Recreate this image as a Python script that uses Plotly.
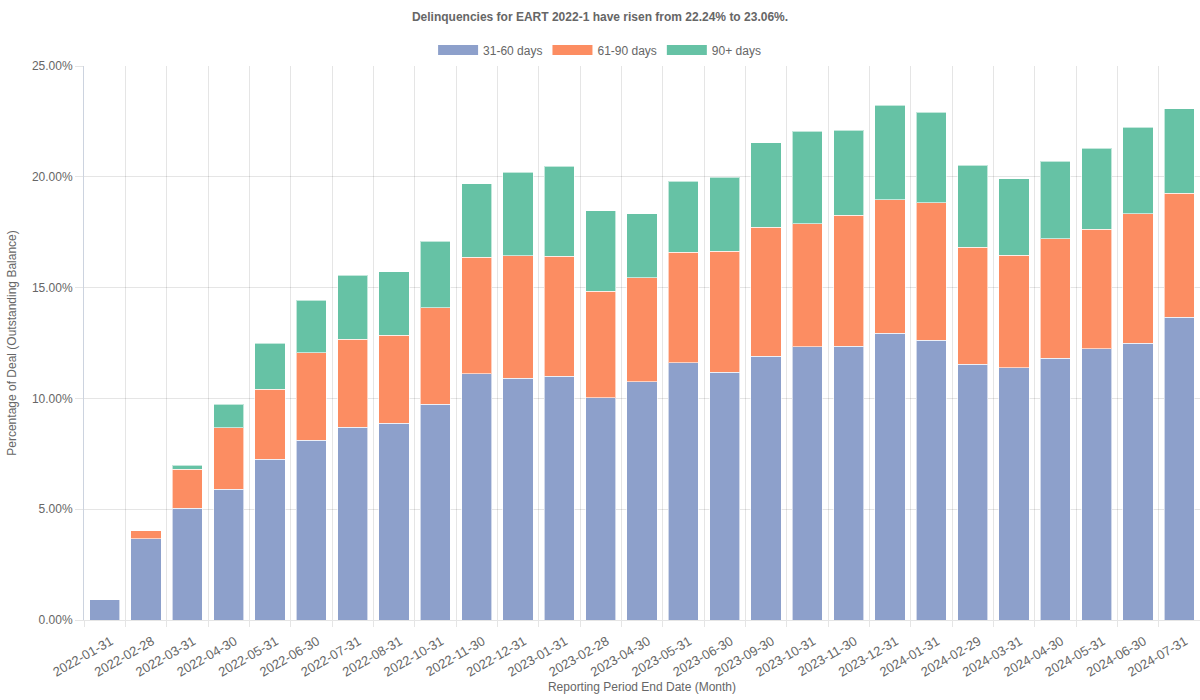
import plotly.graph_objects as go

dates = ["2022-01-31", "2022-02-28", "2022-03-31", "2022-04-30", "2022-05-31", "2022-06-30",
         "2022-07-31", "2022-08-31", "2022-10-31", "2022-11-30", "2022-12-31", "2023-01-31",
         "2023-02-28", "2023-04-30", "2023-05-31", "2023-06-30", "2023-09-30", "2023-10-31",
         "2023-11-30", "2023-12-31", "2024-01-31", "2024-02-29", "2024-03-31", "2024-04-30",
         "2024-05-31", "2024-06-30", "2024-07-31"]

d31_60 = [0.92, 3.67, 5.04, 5.91, 7.25, 8.11, 8.69, 8.89, 9.73, 11.11, 10.91, 11.01, 10.02, 10.76,
          11.61, 11.19, 11.90, 12.33, 12.36, 12.94, 12.62, 11.54, 11.39, 11.81, 12.24, 12.49, 13.67]
d61_90 = [None, 0.36, 1.76, 2.77, 3.16, 3.95, 3.98, 3.97, 4.36, 5.26, 5.52, 5.40, 4.81, 4.69,
          4.98, 5.46, 5.82, 5.55, 5.90, 6.03, 6.20, 5.28, 5.07, 5.40, 5.40, 5.85, 5.59]
d90p = [None, None, 0.18, 1.05, 2.08, 2.38, 2.88, 2.86, 3.01, 3.31, 3.77, 4.06, 3.63, 2.89,
        3.22, 3.34, 3.82, 4.17, 3.84, 4.27, 4.09, 3.71, 3.46, 3.50, 3.65, 3.90, 3.80]

series_names = ["31-60 days", "61-90 days", "90+ days"]
colors = ["#8da0cb", "#fc8d62", "#66c2a5"]
y_ticks = [0, 5, 10, 15, 20, 25]
y_tick_labels = ["0.00%", "5.00%", "10.00%", "15.00%", "20.00%", "25.00%"]

font_family = "Liberation Sans, Arial, Helvetica, sans-serif"
grid = "rgba(0,0,0,0.1)"

fig = go.Figure()
for name, vals, col in zip(series_names, [d31_60, d61_90, d90p], colors):
    fig.add_trace(go.Bar(
        x=dates, y=vals, name=name, showlegend=False,
        marker=dict(color=col, line=dict(color="rgba(255,255,255,0.6)", width=1)),
    ))
# legend proxies (wide colour boxes like the original)
for name, col in zip(series_names, colors):
    fig.add_trace(go.Scatter(
        x=[None], y=[None], mode="lines", name=name,
        line=dict(color=col, width=12),
    ))

fig.update_layout(
    width=1200, height=700,
    barmode="stack", bargap=0.27,
    paper_bgcolor="white", plot_bgcolor="white",
    font=dict(family=font_family, size=12, color="#666"),
    margin=dict(l=84, r=0, t=66, b=80),
    title=dict(text="<b>Delinquencies for EART 2022-1 have risen from 22.24% to 23.06%.</b>",
               x=0.5, xanchor="center", y=0.976, yanchor="middle",
               font=dict(size=12, color="#666")),
    legend=dict(orientation="h", x=0.462, xanchor="center",
                y=1.029, yanchor="middle",
                traceorder="normal",
                font=dict(size=12, color="#666"), itemwidth=40, bgcolor="rgba(0,0,0,0)"),
    xaxis=dict(
        type="category", tickson="boundaries", tickangle=-30,
        showgrid=True, gridcolor=grid, ticks="outside", ticklen=6, tickcolor=grid,
        showline=True, linecolor=grid, linewidth=1,
        title=dict(text="Reporting Period End Date (Month)", font=dict(size=12, color="#666"), standoff=4),
        tickfont=dict(family=font_family, size=13, color="#666"),
        ticklabelshift=6, ticklabelstandoff=8,
        automargin=False,
    ),
    yaxis=dict(
        range=[0, 25], tickvals=y_ticks, ticktext=y_tick_labels,
        showgrid=True, gridcolor=grid, ticks="outside", ticklen=8, tickcolor=grid,
        showline=True, linecolor="#ccd3df", linewidth=1, zeroline=False,
        title=dict(text="Percentage of Deal (Outstanding Balance)", font=dict(size=12, color="#666"), standoff=12),
        tickfont=dict(size=12, color="#666"),
    ),
)

fig.write_html("out.html")
